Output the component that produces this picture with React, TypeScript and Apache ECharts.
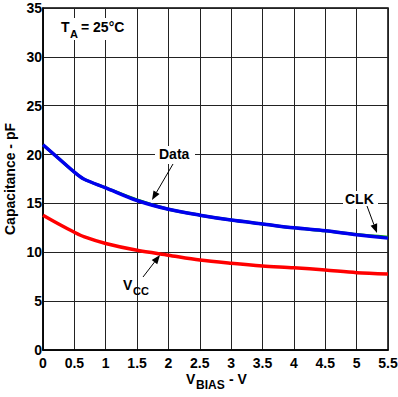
import React, { useEffect, useRef } from "react";
import * as echarts from "echarts";

const vbias = [0, 0.25, 0.5, 0.65, 1.0, 1.5, 2.0, 2.5, 3.0, 3.5, 4.0, 4.5, 5.0, 5.5];
const dataPins = [21.0, 19.6, 18.2, 17.5, 16.6, 15.3, 14.4, 13.8, 13.3, 12.9, 12.5, 12.2, 11.8, 11.45];
const clkPins = [21.0, 19.6, 18.2, 17.5, 16.6, 15.35, 14.4, 13.8, 13.3, 12.9, 12.5, 12.2, 11.82, 11.55];
const vccPins = [13.8, 12.9, 12.05, 11.6, 10.9, 10.2, 9.7, 9.2, 8.87, 8.6, 8.42, 8.18, 7.91, 7.78];
const yTicks = { min: 0, max: 35, interval: 5 };
const xTicks = { min: 0, max: 5.5, interval: 0.5 };

const FONT = "Liberation Sans, Arial, sans-serif";

function arrow(x1: number, y1: number, x2: number, y2: number) {
  const dx = x2 - x1, dy = y2 - y1;
  const len = Math.hypot(dx, dy);
  const ux = dx / len, uy = dy / len;
  const hl = 9, hw = 3.5;
  const bx = x2 - ux * hl, by = y2 - uy * hl;
  const px = -uy * hw, py = ux * hw;
  return [
    { type: "line", shape: { x1, y1, x2: bx, y2: by }, style: { stroke: "#000", lineWidth: 1 }, z: 10 },
    { type: "polygon", shape: { points: [[x2, y2], [bx + px, by + py], [bx - px, by - py]] }, style: { fill: "#000" }, z: 10 },
  ];
}

export default function App() {
  const ref = useRef<HTMLDivElement>(null);
  useEffect(() => {
    const chart = echarts.init(ref.current!, null, { renderer: "svg" });
    const textStyle = (x: number, y: number, text: string, size: number, extra: any = {}) => ({
      type: "text",
      x, y, z: 11,
      style: { text, fill: "#000", font: `bold ${size}px ${FONT}`, ...extra },
    });
    chart.setOption({
      animation: false,
      backgroundColor: "#fff",
      grid: { left: 43, right: 10, top: 8, bottom: 47, show: true, borderColor: "#000", borderWidth: 1.5,
        containLabel: false, outerBoundsMode: "none" },
      xAxis: {
        type: "value", ...xTicks,
        axisLine: { show: true, onZero: false, lineStyle: { color: "#000", width: 1.5 } },
        axisTick: { show: false },
        splitLine: { show: true, lineStyle: { color: "#222", width: 1 } },
        axisLabel: { color: "#000", fontWeight: "bold", fontSize: 14, fontFamily: FONT, margin: 6,
          formatter: (v: number) => String(v) },
      },
      yAxis: {
        type: "value", ...yTicks,
        axisLine: { show: true, lineStyle: { color: "#000", width: 1.5 } },
        axisTick: { show: false },
        splitLine: { show: true, lineStyle: { color: "#222", width: 1 } },
        axisLabel: { color: "#000", fontWeight: "bold", fontSize: 14, fontFamily: FONT, margin: 1 },
      },
      series: [
        { type: "line", name: "CLK", data: vbias.map((x, i) => [x, clkPins[i]]), showSymbol: false, smooth: 0.3, lineStyle: { color: "#00a000", width: 3 }, z: 2 },
        { type: "line", name: "Data", data: vbias.map((x, i) => [x, dataPins[i]]), showSymbol: false, smooth: 0.3, lineStyle: { color: "#0000ee", width: 3.5 }, z: 3 },
        { type: "line", name: "VCC", data: vbias.map((x, i) => [x, vccPins[i]]), showSymbol: false, smooth: 0.3, lineStyle: { color: "#ff0000", width: 3.5 }, z: 3 },
      ],
      graphic: [
        {
          type: "text", x: 10, y: 179, rotation: Math.PI / 2, z: 11,
          style: { text: "Capacitance - pF", fill: "#000", font: `bold 14px ${FONT}`, align: "center", verticalAlign: "middle" },
        },
        { type: "rect", shape: { x: 56, y: 18, width: 80, height: 22 }, style: { fill: "#fff" }, z: 9 },
        textStyle(61, 20, "T", 14),
        textStyle(70, 28, "A", 11),
        textStyle(81, 20, "= 25°C", 14),
        { type: "rect", shape: { x: 155, y: 146, width: 40, height: 18 }, style: { fill: "#fff" }, z: 9 },
        textStyle(159, 147, "Data", 14),
        ...arrow(173, 164, 152, 200),
        { type: "rect", shape: { x: 343, y: 191, width: 35, height: 18 }, style: { fill: "#fff" }, z: 9 },
        textStyle(345, 192, "CLK", 14),
        ...arrow(367, 206, 377, 233),
        textStyle(123, 278, "V", 14),
        textStyle(133, 285, "CC", 11),
        ...arrow(143, 277, 160, 255),
        textStyle(186, 372, "V", 14),
        textStyle(196, 379, "BIAS", 12),
        textStyle(229, 372, "- V", 14),
      ],
    });
    return () => chart.dispose();
  }, []);
  return <div ref={ref} style={{ position: "fixed", left: 0, top: 0, width: 398, height: 397 }} />;
}
